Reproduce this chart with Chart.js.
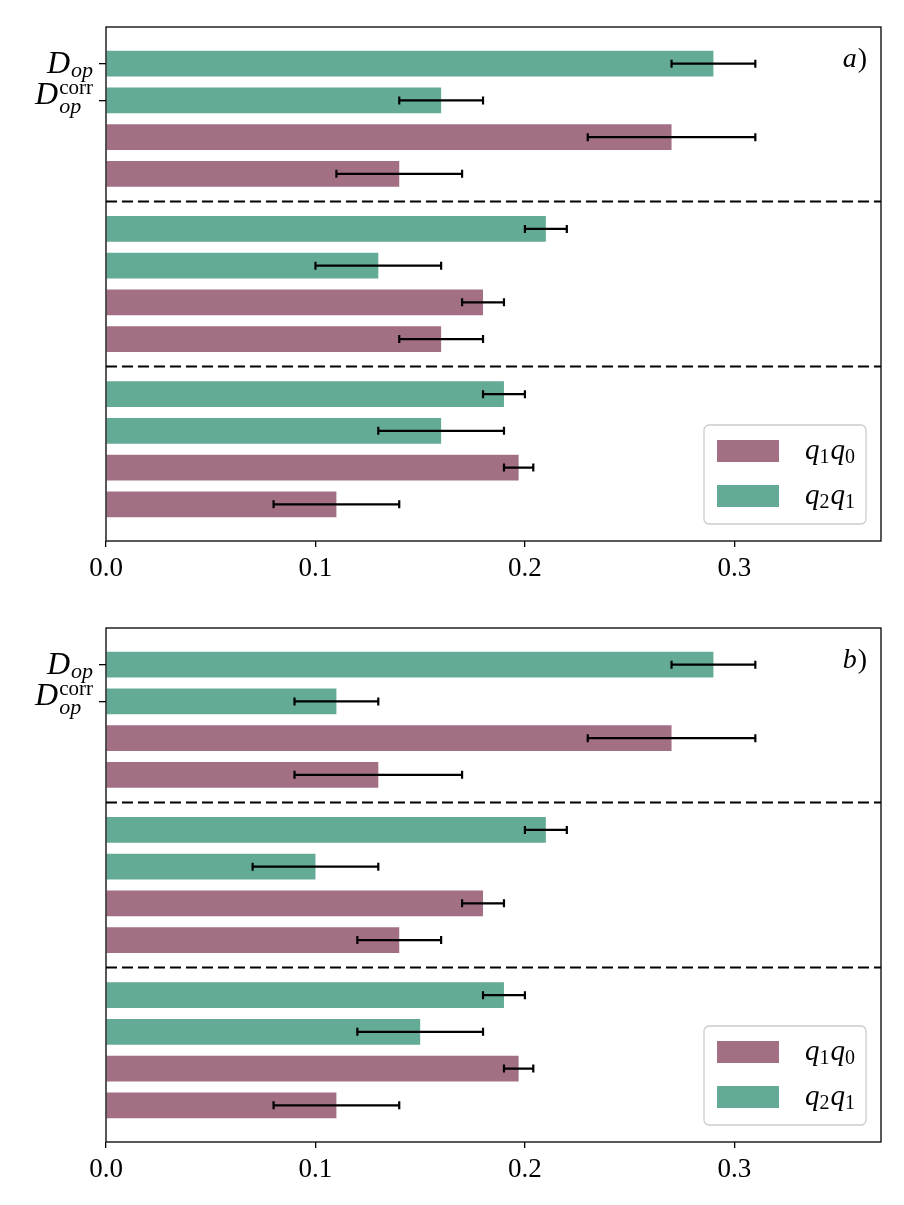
<!DOCTYPE html>
<html>
<head>
<meta charset="utf-8">
<script src="https://cdn.jsdelivr.net/npm/chart.js@4.4.0/dist/chart.umd.min.js"></script>
<style>
  html, body { margin: 0; padding: 0; background: #fff; }
  canvas { display: block; }
</style>
</head>
<body>
<canvas id="chartA" width="904" height="601"></canvas>
<canvas id="chartB" width="904" height="604"></canvas>
<script>
// Данные: порядок строк сверху вниз, по 4 строки в группе
const seriesNames = ['q2q1', 'q1q0'];
const rowSeries = ['q2q1', 'q2q1', 'q1q0', 'q1q0',
                   'q2q1', 'q2q1', 'q1q0', 'q1q0',
                   'q2q1', 'q2q1', 'q1q0', 'q1q0'];
const valuesA = [0.29, 0.16, 0.27, 0.14, 0.21, 0.13, 0.18, 0.16, 0.19, 0.16, 0.197, 0.11];
const errorsA = [0.02, 0.02, 0.04, 0.03, 0.01, 0.03, 0.01, 0.02, 0.01, 0.03, 0.007, 0.03];
const valuesB = [0.29, 0.11, 0.27, 0.13, 0.21, 0.10, 0.18, 0.14, 0.19, 0.15, 0.197, 0.11];
const errorsB = [0.02, 0.02, 0.04, 0.04, 0.01, 0.03, 0.01, 0.02, 0.01, 0.03, 0.007, 0.03];
const xTicks = [0, 0.1, 0.2, 0.3];
const rowsPerGroup = 4;
const groupStep = 4.5;

const colors = { q1q0: '#a26f84', q2q1: '#64ab97' };
const serif = '"Liberation Serif", "DejaVu Serif", serif';

function rowPos(i) {
    return Math.floor(i / rowsPerGroup) * groupStep + (i % rowsPerGroup);
}

function buildDatasets(values, errors) {
    return seriesNames.map(name => ({
        label: name,
        data: values.map((v, i) => ({ x: v, y: rowPos(i), err: errors[i], s: rowSeries[i] }))
                    .filter(p => p.s === name),
        backgroundColor: colors[name],
        borderWidth: 0,
        barPercentage: 0.7,
        categoryPercentage: 1,
        grouped: false
    }));
}

const decorPlugin = {
    id: 'decor',
    afterDatasetsDraw(chart, args, opts) {
        const ctx = chart.ctx;
        const xs = chart.scales.x, ys = chart.scales.y;
        const area = chart.chartArea;
        ctx.save();

        // пунктирные разделители групп
        ctx.strokeStyle = '#000';
        ctx.lineWidth = 2;
        ctx.setLineDash([11, 5]);
        for (let g = 1; g < 3; g++) {
            const y = ys.getPixelForValue(g * groupStep - 0.75);
            ctx.beginPath();
            ctx.moveTo(area.left, y);
            ctx.lineTo(area.right, y);
            ctx.stroke();
        }
        ctx.setLineDash([]);

        // погрешности
        ctx.lineWidth = 2.2;
        chart.data.datasets.forEach(ds => {
            ds.data.forEach(p => {
                const y = ys.getPixelForValue(p.y);
                const x1 = xs.getPixelForValue(p.x - p.err);
                const x2 = xs.getPixelForValue(p.x + p.err);
                ctx.beginPath();
                ctx.moveTo(x1, y); ctx.lineTo(x2, y);
                ctx.moveTo(x1, y - 4); ctx.lineTo(x1, y + 4);
                ctx.moveTo(x2, y - 4); ctx.lineTo(x2, y + 4);
                ctx.stroke();
            });
        });

        // рамка
        ctx.lineWidth = 1.3;
        ctx.strokeRect(area.left, area.top, area.right - area.left, area.bottom - area.top);

        // подписи оси y
        ctx.fillStyle = '#000';
        ctx.textBaseline = 'alphabetic';
        ctx.textAlign = 'left';
        const t0 = ys.getPixelForValue(0);
        const t1 = ys.getPixelForValue(1);
        const it = 'italic 32px ' + serif;
        const itS = 'italic 22px ' + serif;
        const upS = '21px ' + serif;
        ctx.font = it;
        const wD = ctx.measureText('D').width;
        ctx.font = itS;
        const wOp = ctx.measureText('op').width;
        ctx.font = upS;
        const wCorr = ctx.measureText('corr').width;
        const rx = area.left - 13;
        // D_op
        ctx.font = it; ctx.fillText('D', rx - wOp - wD - 1, t0 + 9);
        ctx.font = itS; ctx.fillText('op', rx - wOp, t0 + 13);
        // D_op^corr
        const w2 = Math.max(wOp, wCorr);
        ctx.font = it; ctx.fillText('D', rx - w2 - wD - 1, t1 + 4);
        ctx.font = upS; ctx.fillText('corr', rx - w2, t1 - 6);
        ctx.font = itS; ctx.fillText('op', rx - w2, t1 + 13);

        // метка панели
        ctx.font = 'italic 28px ' + serif;
        const wl = ctx.measureText(opts.letter).width;
        ctx.font = '28px ' + serif;
        const wp = ctx.measureText(')').width;
        const lx = area.right - 15 - wl - wp;
        ctx.font = 'italic 28px ' + serif;
        ctx.fillText(opts.letter, lx, area.top + 40);
        ctx.font = '28px ' + serif;
        ctx.fillText(')', lx + wl + 1, area.top + 40);

        // легенда
        const bw = 162, bh = 99;
        const bx = area.right - 15 - bw, by = area.bottom - 17 - bh;
        ctx.fillStyle = 'rgba(255,255,255,0.8)';
        ctx.strokeStyle = '#cccccc';
        ctx.lineWidth = 1.3;
        ctx.beginPath();
        ctx.roundRect(bx, by, bw, bh, 5);
        ctx.fill();
        ctx.stroke();
        const legendItems = [
            { name: 'q1q0', a: '1', b: '0' },
            { name: 'q2q1', a: '2', b: '1' }
        ];
        legendItems.forEach((item, k) => {
            const sy = by + 15 + k * 45;
            ctx.fillStyle = colors[item.name];
            ctx.fillRect(bx + 13, sy, 62, 22);
            ctx.fillStyle = '#000';
            let tx = bx + 101;
            const base = sy + 19;
            ctx.font = 'italic 29px ' + serif;
            ctx.fillText('q', tx, base); tx += ctx.measureText('q').width;
            ctx.font = '20px ' + serif;
            ctx.fillText(item.a, tx, base + 4); tx += ctx.measureText(item.a).width + 1;
            ctx.font = 'italic 29px ' + serif;
            ctx.fillText('q', tx, base); tx += ctx.measureText('q').width;
            ctx.font = '20px ' + serif;
            ctx.fillText(item.b, tx, base + 4);
        });

        ctx.restore();
    }
};

function makeChart(id, values, errors, letter, bottomPad) {
    const ctx = document.getElementById(id).getContext('2d');
    return new Chart(ctx, {
        type: 'bar',
        data: { datasets: buildDatasets(values, errors) },
        options: {
            indexAxis: 'y',
            responsive: false,
            animation: false,
            devicePixelRatio: 1,
            layout: { padding: { top: 27, right: 23, left: 0, bottom: bottomPad } },
            plugins: {
                legend: { display: false },
                tooltip: { enabled: false },
                decor: { letter: letter }
            },
            scales: {
                x: {
                    type: 'linear',
                    min: 0,
                    max: 0.37,
                    afterBuildTicks: scale => { scale.ticks = xTicks.map(v => ({ value: v })); },
                    afterFit: scale => { scale.height = 60; },
                    border: { display: false },
                    grid: { drawOnChartArea: false, drawTicks: true, tickLength: 6, color: '#000', lineWidth: 1.3 },
                    ticks: {
                        color: '#000',
                        padding: 6,
                        maxRotation: 0,
                        font: { family: serif, size: 27 },
                        callback: v => v.toFixed(1)
                    }
                },
                y: {
                    type: 'linear',
                    reverse: true,
                    offset: false,
                    min: -1,
                    max: 13,
                    afterBuildTicks: scale => { scale.ticks = [{ value: 0 }, { value: 1 }]; },
                    afterFit: scale => { scale.width = 106; },
                    border: { display: false },
                    grid: { offset: false, drawOnChartArea: false, drawTicks: true, tickLength: 7, color: '#000', lineWidth: 1.3 },
                    ticks: { callback: () => '', padding: 0 }
                }
            }
        },
        plugins: [decorPlugin]
    });
}

makeChart('chartA', valuesA, errorsA, 'a', 0);
makeChart('chartB', valuesB, errorsB, 'b', 3);
</script>
</body>
</html>
